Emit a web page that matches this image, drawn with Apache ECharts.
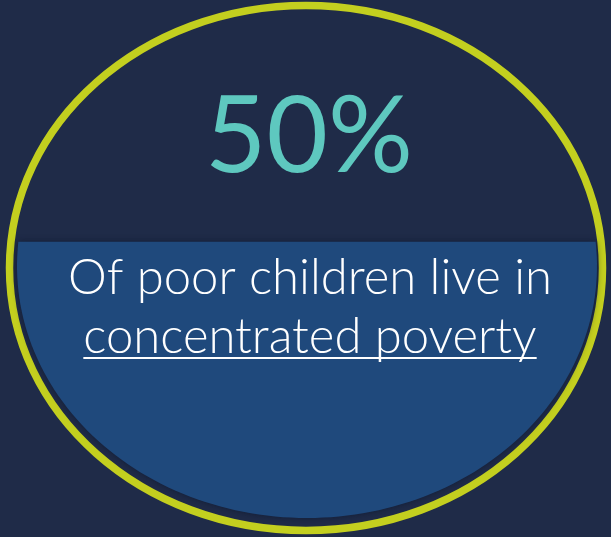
<!DOCTYPE html>
<html>
<head>
<meta charset="utf-8">
<script src="https://cdn.jsdelivr.net/npm/echarts@6/dist/echarts.min.js"></script>
<style>
html,body{margin:0;padding:0;background:#1f2b48;}
#c{width:611px;height:537px;}
</style>
</head>
<body>
<div id="c"></div>
<script>
// ---- data ----
var statLabel = ['50%'];
var captionLines = ['Of poor children live in', 'concentrated poverty'];
var fillLevel = [0.548]; // share of the ellipse height filled

var FONT = 'Lato, "Open Sans", sans-serif';
var CAP_FONT = '300 49px ' + FONT;
var chart = echarts.init(document.getElementById('c'), null, {renderer: 'canvas'});

// measure underline width
var cv = document.createElement('canvas').getContext('2d');
cv.font = CAP_FONT;
var ulW = cv.measureText(captionLines[1]).width;
var CX = 310;

var option = {
  backgroundColor: '#1f2b48',
  animation: false,
  grid: {left: 17, right: 14, top: 14, bottom: 19},
  xAxis: {type: 'value', min: 0, max: 1, show: false},
  yAxis: {type: 'value', min: 0, max: 1, show: false},
  graphic: [
    {type: 'ellipse', z: 1, shape: {cx: 306, cy: 268, rx: 296.5, ry: 262.5},
     style: {fill: 'none', stroke: '#c3cf1f', lineWidth: 7.5}},
    {type: 'text', z: 10, style: {text: statLabel[0], x: 309, y: 138, align: 'center', verticalAlign: 'middle',
      font: '400 106px ' + FONT, fill: '#5ec8bf'}},
    {type: 'text', z: 10, style: {text: captionLines[0], x: CX, y: 254, align: 'center', verticalAlign: 'top',
      font: CAP_FONT, fill: '#ffffff'}},
    {type: 'text', z: 10, style: {text: captionLines[1], x: CX, y: 313, align: 'center', verticalAlign: 'top',
      font: CAP_FONT, fill: '#ffffff'}},
    {type: 'line', z: 10, shape: {x1: CX - ulW / 2, y1: 358, x2: CX + ulW / 2, y2: 358},
     style: {stroke: '#ffffff', lineWidth: 2}}
  ],
  series: [{
    type: 'custom',
    data: fillLevel.map(function (v) { return [0.5, v]; }),
    renderItem: function (params, api) {
      var c = api.coord([0.5, 0.5]);
      var tl = api.coord([0, 1]);
      var rx = c[0] - tl[0], ry = c[1] - tl[1];
      var ly = api.coord([0.5, api.value(1)])[1];
      var yrel = Math.max(-1, Math.min(1, (ly - c[1]) / ry));
      var t0 = Math.asin(yrel);
      var pts = [];
      var n = 120;
      for (var i = 0; i <= n; i++) {
        var t = t0 + (Math.PI - 2 * t0) * i / n;
        pts.push([c[0] + rx * Math.cos(t), c[1] + ry * Math.sin(t)]);
      }
      return {
        type: 'polygon',
        shape: {points: pts},
        style: {fill: '#1f497c', shadowColor: 'rgba(10,20,40,0.6)', shadowBlur: 6}
      };
    }
  }]
};
chart.setOption(option);
</script>
</body>
</html>
